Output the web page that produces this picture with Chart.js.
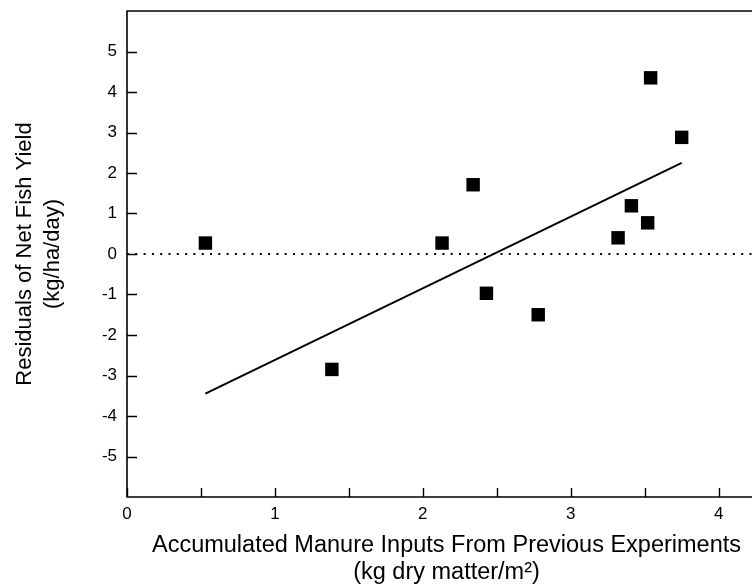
<!DOCTYPE html>
<html>
<head>
<meta charset="utf-8">
<title>Residuals of Net Fish Yield vs Accumulated Manure Inputs</title>
<script src="https://cdn.jsdelivr.net/npm/chart.js@4.4.1/dist/chart.umd.min.js"></script>
<style>
  html, body { margin: 0; padding: 0; background: #fff; overflow: hidden; }
  #wrap { width: 766px; height: 587px; }
</style>
</head>
<body>
<div id="wrap"><canvas id="c" width="766" height="587"></canvas></div>
<script>
// Pond observations: accumulated manure (kg dry matter/m²) and yield residual (kg/ha/day)
const manureInputs   = [0.53, 1.385, 2.13, 2.34, 2.43, 2.78, 3.32, 3.41, 3.52, 3.54, 3.75];
const yieldResiduals = [0.27, -2.85, 0.27, 1.71, -0.97, -1.50, 0.40, 1.19, 0.77, 4.35, 2.88];

// Fitted trend line end points
const fitInputs    = [0.53, 3.75];
const fitResiduals = [-3.45, 2.25];

// Zero reference line
const zeroLineInputs    = [0, 4.32];
const zeroLineResiduals = [0, 0];

// Axis ticks
const xTickValues = [0, 0.5, 1, 1.5, 2, 2.5, 3, 3.5, 4];
const xTickLabels = ['0', '', '1', '', '2', '', '3', '', '4'];
const yTickValues = [-5, -4, -3, -2, -1, 0, 1, 2, 3, 4, 5];
const yTickLabels = ['-5', '-4', '-3', '-2', '-1', '0', '1', '2', '3', '4', '5'];

const xTitle = ['Accumulated Manure Inputs From Previous Experiments', '(kg dry matter/m²)'];
const yTitle = ['Residuals of Net Fish Yield', '(kg/ha/day)'];

const INK = '#000';
Chart.defaults.font.family = "'Liberation Sans', Arial, Helvetica, sans-serif";
Chart.defaults.color = INK;

const toPoints = (xs, ys) => xs.map((x, i) => ({ x: x, y: ys[i] }));

// Frame on three sides plus inward-pointing tick marks
const framePlugin = {
  id: 'frame',
  afterDatasetsDraw(chart) {
    const { ctx, chartArea: a, scales } = chart;
    ctx.save();
    ctx.strokeStyle = INK;
    ctx.lineWidth = 1.6;
    ctx.lineCap = 'butt';
    ctx.beginPath();
    ctx.moveTo(a.right + 2, a.top);
    ctx.lineTo(a.left, a.top);
    ctx.lineTo(a.left, a.bottom);
    ctx.lineTo(a.right + 2, a.bottom);
    ctx.stroke();

    ctx.lineWidth = 1.4;
    ctx.beginPath();
    scales.y.ticks.forEach(t => {
      const py = Math.round(scales.y.getPixelForValue(t.value)) + 0.5;
      ctx.moveTo(a.left, py);
      ctx.lineTo(a.left + 10, py);
    });
    scales.x.ticks.forEach(t => {
      const px = Math.round(scales.x.getPixelForValue(t.value)) + 0.5;
      ctx.moveTo(px, a.bottom);
      ctx.lineTo(px, a.bottom - 9);
    });
    ctx.stroke();
    ctx.restore();
  }
};

new Chart(document.getElementById('c'), {
  type: 'scatter',
  data: {
    datasets: [
      {
        label: 'Residuals',
        data: toPoints(manureInputs, yieldResiduals),
        pointStyle: 'rect',
        pointRadius: 9.5,
        backgroundColor: INK,
        borderWidth: 0,
        showLine: false
      },
      {
        label: 'Trend',
        data: toPoints(fitInputs, fitResiduals),
        showLine: true,
        pointRadius: 0,
        borderColor: INK,
        borderWidth: 2,
        fill: false
      },
      {
        label: 'Zero',
        data: toPoints(zeroLineInputs, zeroLineResiduals),
        showLine: true,
        pointRadius: 0,
        borderColor: INK,
        borderWidth: 2,
        borderDash: [2, 6.3],
        fill: false
      }
    ]
  },
  options: {
    responsive: false,
    devicePixelRatio: 1,
    animation: false,
    events: [],
    layout: { autoPadding: false, padding: { top: 11, left: 0, right: 0, bottom: 0 } },
    plugins: { legend: { display: false }, tooltip: { enabled: false } },
    scales: {
      x: {
        type: 'linear',
        min: 0,
        max: 4.32,
        afterBuildTicks: s => { s.ticks = xTickValues.map(v => ({ value: v })); },
        afterFit: s => { s.height = 90; s.paddingLeft = 0; s.paddingRight = 0; },
        grid: { display: false, drawTicks: false },
        border: { display: false },
        ticks: {
          autoSkip: false,
          maxRotation: 0,
          padding: 7,
          font: { size: 17 },
          color: INK,
          callback: (v, i) => xTickLabels[i]
        },
        title: {
          display: true,
          text: xTitle,
          font: { size: 23.5, lineHeight: 1.15 },
          color: INK,
          padding: { top: 0, bottom: 0.5 }
        }
      },
      y: {
        type: 'linear',
        min: -6,
        max: 6,
        afterBuildTicks: s => { s.ticks = yTickValues.map(v => ({ value: v })); },
        afterFit: s => { s.width = 127; s.paddingTop = 0; s.paddingBottom = 0; },
        grid: { display: false, drawTicks: false },
        border: { display: false },
        ticks: {
          padding: 10,
          font: { size: 17 },
          color: INK,
          callback: (v, i) => yTickLabels[i]
        },
        title: {
          display: true,
          text: yTitle,
          font: { size: 22, lineHeight: 1.25 },
          color: INK,
          padding: { top: 11.5, bottom: 0 }
        }
      }
    }
  },
  plugins: [framePlugin]
});
</script>
</body>
</html>
